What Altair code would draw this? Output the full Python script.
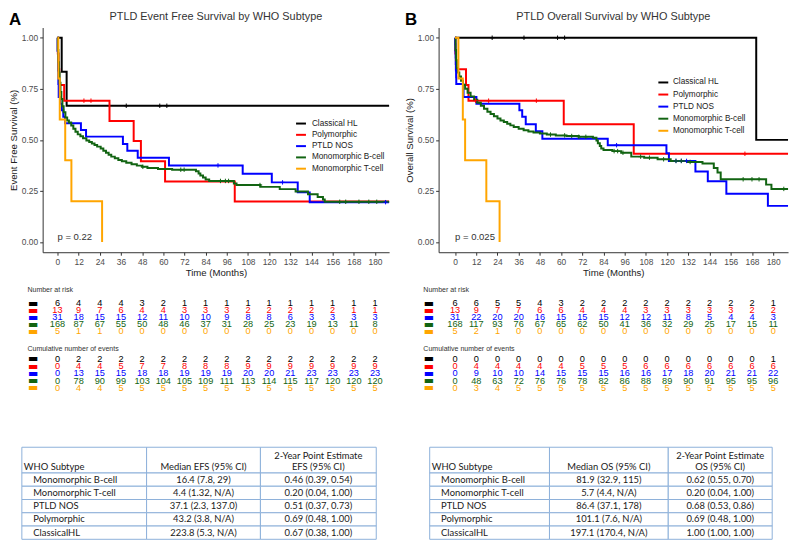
import altair as alt
import pandas as pd

groups = ["Classical HL", "Polymorphic", "PTLD NOS", "Monomorphic B-cell", "Monomorphic T-cell"]
palette = ["#000000", "#ff0000", "#0000ff", "#126412", "#ffa500"]
risk_times = [0, 12, 24, 36, 48, 60, 72, 84, 96, 108, 120, 132, 144, 156, 168, 180]

# ---------------- Panel A: event free survival (month, survival) ----------------
efs_hl = [(0, 1.0), (2.4, 0.833), (5.2, 0.667), (188, 0.667)]
efs_poly = [(0, 1.0), (0.2, 0.923), (0.6, 0.846), (1.0, 0.769), (3.8, 0.692), (29.5, 0.593),
            (43.2, 0.494), (47.3, 0.395), (61.0, 0.296), (100.5, 0.198), (188, 0.198)]
efs_nos = [(0, 1.0), (0.1, 0.935), (0.3, 0.839), (0.5, 0.774), (0.7, 0.71), (1.6, 0.677),
           (2.5, 0.645), (3.3, 0.613), (4.3, 0.581), (13.3, 0.548), (16.2, 0.516), (37.1, 0.48),
           (39.6, 0.447), (45.5, 0.413), (63.2, 0.375), (105.0, 0.334), (121.5, 0.292),
           (136.2, 0.243), (143.0, 0.195), (188, 0.195)]
efs_mb = [(0, 1.0), (0.2, 0.94), (0.5, 0.88), (0.8, 0.83), (1.2, 0.78), (1.7, 0.735), (2.2, 0.70),
          (2.8, 0.665), (3.5, 0.635), (4.5, 0.61), (5.5, 0.595), (6.5, 0.585), (7.8, 0.57),
          (9.0, 0.555), (10.2, 0.54), (11.5, 0.527), (13.0, 0.518), (14.5, 0.508), (16.4, 0.497),
          (18.0, 0.49), (19.5, 0.482), (21.0, 0.475), (22.5, 0.467), (24.5, 0.458), (26.0, 0.447),
          (27.5, 0.437), (29.0, 0.427), (30.5, 0.418), (32.5, 0.41), (34.5, 0.402), (36.5, 0.395),
          (39.0, 0.388), (42.0, 0.381), (45.0, 0.374), (48.0, 0.368), (51.0, 0.362), (57.0, 0.358),
          (65.0, 0.354), (78.5, 0.346), (80.0, 0.336), (81.0, 0.326), (82.5, 0.316), (84.0, 0.306),
          (86.0, 0.299), (100.0, 0.287), (101.5, 0.279), (115.0, 0.27), (126.0, 0.259),
          (135.0, 0.247), (142.0, 0.234), (147.5, 0.22), (150.5, 0.208), (151.5, 0.197), (188, 0.197)]
efs_mt = [(0, 1.0), (0.5, 0.8), (1.3, 0.6), (4.4, 0.4), (7.9, 0.2), (25.3, 0.0)]

efs_hl_cens = [39, 58, 62]
efs_poly_cens = [15, 19]
efs_nos_cens = [91, 127.6, 186]
efs_mb_cens = [48.4, 69.9, 71.8, 92.4, 95.2, 97, 114.8, 160, 163.4, 170.9, 176.5, 181]
efs_mt_cens = []

efs_risk_hl = [6, 4, 4, 4, 3, 2, 1, 1, 1, 1, 1, 1, 1, 1, 1, 1]
efs_risk_poly = [13, 9, 7, 6, 4, 4, 3, 3, 3, 2, 2, 2, 2, 2, 1, 1]
efs_risk_nos = [31, 18, 15, 15, 12, 11, 10, 10, 9, 8, 8, 6, 3, 3, 3, 3]
efs_risk_mb = [168, 87, 67, 55, 50, 48, 46, 37, 31, 28, 25, 23, 19, 13, 11, 8]
efs_risk_mt = [5, 1, 1, 0, 0, 0, 0, 0, 0, 0, 0, 0, 0, 0, 0, 0]

efs_ev_hl = [0, 2, 2, 2, 2, 2, 2, 2, 2, 2, 2, 2, 2, 2, 2, 2]
efs_ev_poly = [0, 4, 4, 5, 7, 7, 8, 8, 8, 9, 9, 9, 9, 9, 9, 9]
efs_ev_nos = [0, 13, 15, 15, 18, 18, 19, 19, 19, 20, 20, 21, 23, 23, 23, 23]
efs_ev_mb = [0, 78, 90, 99, 103, 104, 105, 109, 111, 113, 114, 115, 117, 120, 120, 120]
efs_ev_mt = [0, 4, 4, 5, 5, 5, 5, 5, 5, 5, 5, 5, 5, 5, 5, 5]

# ---------------- Panel B: overall survival ----------------
os_hl = [(0, 1.0), (170.4, 0.5), (188.4, 0.5)]
os_poly = [(0, 1.0), (0.2, 0.923), (0.5, 0.846), (6.2, 0.769), (7.6, 0.692), (61.5, 0.576),
           (101.1, 0.432), (188.4, 0.432)]
os_nos = [(0, 1.0), (0.1, 0.968), (0.2, 0.935), (0.3, 0.903), (0.4, 0.871), (0.5, 0.839),
          (0.6, 0.806), (0.7, 0.774), (4.6, 0.742), (4.8, 0.71), (12.1, 0.677), (36.4, 0.645),
          (38.0, 0.613), (40.0, 0.576), (45.7, 0.542), (49.4, 0.506), (86.4, 0.474),
          (119.6, 0.435), (121.0, 0.397), (136.0, 0.345), (143.0, 0.297), (153.5, 0.236),
          (177.0, 0.177), (188.4, 0.177)]
os_mb = [(0, 1.0), (0.3, 0.94), (0.6, 0.89), (1.0, 0.852), (1.6, 0.83), (2.4, 0.81), (3.4, 0.79),
         (4.5, 0.77), (5.7, 0.75), (7.1, 0.731), (8.8, 0.713), (10.8, 0.696), (12.6, 0.682),
         (14.6, 0.667), (16.4, 0.652), (18.3, 0.638), (20.1, 0.627), (22.0, 0.616), (24.0, 0.605),
         (25.7, 0.595), (27.6, 0.587), (29.5, 0.579), (31.3, 0.571), (33.2, 0.563), (36.0, 0.555),
         (38.8, 0.547), (41.5, 0.541), (44.4, 0.536), (48.0, 0.531), (51.9, 0.526), (57.0, 0.522),
         (63.1, 0.519), (70.0, 0.515), (78.0, 0.511), (80.0, 0.497), (80.8, 0.484), (81.9, 0.47),
         (82.7, 0.458), (84.0, 0.45), (89.0, 0.445), (94.0, 0.437), (99.7, 0.418), (107.0, 0.413),
         (114.6, 0.405), (122.0, 0.397), (131.5, 0.392), (140.0, 0.384), (146.4, 0.362),
         (148.5, 0.34), (150.3, 0.307), (176.0, 0.281), (179.0, 0.26), (188.4, 0.26)]
os_mt = [(0, 1.0), (1.9, 0.8), (4.4, 0.6), (5.7, 0.4), (17.7, 0.2), (25.2, 0.0)]

os_hl_cens = [21, 39, 58, 62]
os_poly_cens = [11.6, 19, 46, 164]
os_nos_cens = [91.4, 125, 128, 131]
os_mb_cens = [54, 62, 66, 70, 74, 90, 92, 95, 105, 110, 118, 125, 128, 133, 163, 168, 172, 186]
os_mt_cens = []

os_risk_hl = [6, 6, 5, 5, 4, 3, 2, 2, 2, 2, 2, 2, 2, 2, 2, 1]
os_risk_poly = [13, 9, 7, 7, 6, 6, 4, 4, 4, 3, 3, 3, 3, 3, 2, 2]
os_risk_nos = [31, 22, 20, 20, 16, 15, 15, 15, 12, 12, 11, 8, 5, 4, 4, 3]
os_risk_mb = [168, 117, 93, 76, 67, 65, 62, 50, 41, 36, 32, 29, 25, 17, 15, 11]
os_risk_mt = [5, 2, 1, 0, 0, 0, 0, 0, 0, 0, 0, 0, 0, 0, 0, 0]

os_ev_hl = [0, 0, 0, 0, 0, 0, 0, 0, 0, 0, 0, 0, 0, 0, 0, 1]
os_ev_poly = [0, 4, 4, 4, 4, 4, 5, 5, 5, 6, 6, 6, 6, 6, 6, 6]
os_ev_nos = [0, 9, 10, 10, 14, 15, 15, 15, 16, 16, 17, 18, 20, 21, 21, 22]
os_ev_mb = [0, 48, 63, 72, 76, 76, 78, 82, 86, 88, 89, 90, 91, 95, 95, 96]
os_ev_mt = [0, 3, 4, 5, 5, 5, 5, 5, 5, 5, 5, 5, 5, 5, 5, 5]

# ---------------- summary tables ----------------
tbl_subtypes = ["Monomorphic B-cell", "Monomorphic T-cell", "PTLD NOS", "Polymorphic", "ClassicalHL"]
efs_median = ["16.4 (7.8, 29)", "4.4 (1.32, N/A)", "37.1 (2.3, 137.0)", "43.2 (3.8, N/A)", "223.8 (5.3, N/A)"]
efs_2yr = ["0.46 (0.39, 0.54)", "0.20 (0.04, 1.00)", "0.51 (0.37, 0.73)", "0.69 (0.48, 1.00)", "0.67 (0.38, 1.00)"]
os_median = ["81.9 (32.9, 115)", "5.7 (4.4, N/A)", "86.4 (37.1, 178)", "101.1 (7.6, N/A)", "197.1 (170.4, N/A)"]
os_2yr = ["0.62 (0.55, 0.70)", "0.20 (0.04, 1.00)", "0.68 (0.53, 0.86)", "0.69 (0.48, 1.00)", "1.00 (1.00, 1.00)"]

FONT = "Liberation Sans"
PLUS = "M-1,0L1,0M0,-1L0,1"
color_expr = " : ".join(f"datum.value == '{g}' ? '{c}'" for g, c in zip(groups, palette)) + " : 'black'"


def step_value(pts, t):
    v = pts[0][1]
    for tt, ss in pts:
        if tt <= t:
            v = ss
    return v


def km_panel(curves, censors, title, ytitle, pval, panel, xdom, width, lx, ly, lrow, loff):
    line_df = pd.DataFrame([{"group": g, "t": t, "s": s}
                            for g, pts in zip(groups, curves) for t, s in pts])
    cen_df = pd.DataFrame([{"group": g, "t": c, "s": step_value(pts, c)}
                           for g, pts, cs in zip(groups, curves, censors) for c in cs])
    xs = alt.Scale(domain=xdom, nice=False, zero=False)
    ys = alt.Scale(domain=[-0.05, 1.05], nice=False, zero=False)
    cs = alt.Scale(domain=groups, range=palette)
    xax = alt.Axis(values=risk_times, title="Time (Months)", labelFontSize=8.5, labelColor="#4d4d4d",
                   tickSize=3, labelPadding=2, titlePadding=2, titleFontSize=9.7, titleColor="#222",
                   titleFontWeight="normal", domainColor="#333", tickColor="#333", grid=False,
                   labelFlush=False, labelOverlap=False)
    yax = alt.Axis(values=[0, 0.25, 0.5, 0.75, 1.0], format=".2f", title=ytitle, labelFontSize=8.5,
                   labelColor="#4d4d4d", tickSize=3, labelPadding=2, titlePadding=2.5, titleFontSize=9.7,
                   titleColor="#222", titleFontWeight="normal", domainColor="#333", tickColor="#333",
                   grid=False, labelOverlap=False)
    leg = alt.Legend(title=None, orient="none", legendX=lx, legendY=ly, symbolType="stroke",
                     symbolStrokeWidth=2, symbolSize=100, labelFontSize=8.3, labelColor="#222",
                     labelFont=FONT, rowPadding=lrow, labelOffset=loff, padding=0)
    X = alt.X("t:Q", scale=xs, axis=xax)
    Y = alt.Y("s:Q", scale=ys, axis=yax)
    lines = alt.Chart(line_df).mark_line(interpolate="step-after", strokeWidth=2).encode(
        x=X, y=Y, color=alt.Color("group:N", scale=cs, legend=leg, sort=groups),
    )
    cens = alt.Chart(cen_df).mark_point(shape=PLUS, size=20, strokeWidth=1, filled=False, opacity=1).encode(
        x=X, y=Y, color=alt.Color("group:N", scale=cs, legend=None)
    )
    ptxt = alt.Chart(pd.DataFrame({"t": [0], "s": [0.024], "label": [pval]})).mark_text(
        align="left", baseline="middle", fontSize=9.6, font=FONT, color="#333"
    ).encode(x=X, y=Y, text="label:N")
    ptag = alt.Chart(pd.DataFrame({"label": [panel]})).mark_text(
        align="left", baseline="top", fontSize=17, fontWeight="bold", font=FONT, color="black"
    ).encode(x=alt.value(-34), y=alt.value(-16), text="label:N")
    return alt.layer(lines, cens, ptxt, ptag).properties(
        width=width, height=227,
        title=alt.Title(title, fontSize=11, font=FONT, fontWeight="normal", color="#333", offset=-11.5),
    )


def count_panel(counts, title, xdom, width, height, yrange, toff):
    df = pd.DataFrame([{"group": g, "t": t, "n": n}
                       for g, row in zip(groups, counts) for t, n in zip(risk_times, row)])
    return alt.Chart(df).mark_text(fontSize=9.3, font=FONT, baseline="middle").encode(
        x=alt.X("t:Q", scale=alt.Scale(domain=xdom, nice=False, zero=False), axis=None),
        y=alt.Y("group:N", sort=groups,
                scale=alt.Scale(type="point", domain=groups, range=yrange, padding=0.5),
                axis=alt.Axis(title=None, domain=False, ticks=False, grid=False, labelExpr="'\u25ac'",
                              labelColor=alt.ExprRef(color_expr), labelFont="DejaVu Sans",
                              labelFontSize=11, labelPadding=5)),
        text=alt.Text("n:Q"),
        color=alt.Color("group:N", scale=alt.Scale(domain=groups, range=palette), legend=None),
    ).properties(width=width, height=height,
                 title=alt.Title(title, anchor="start", fontSize=7.1, font=FONT, fontWeight="normal",
                                 color="#333", offset=toff))


row_edges = [0, 26, 39.4, 52.8, 66.2, 79.6, 93]


def who_table(med, pt, hdr_med, hdr_pt, col_w, xrange, width):
    edges = [0, col_w[0], col_w[0] + col_w[1], sum(col_w)]
    cells = pd.DataFrame([{"x0": edges[c], "x1": edges[c + 1], "y0": row_edges[r], "y1": row_edges[r + 1]}
                          for r in range(6) for c in range(3)])
    xs = alt.Scale(domain=[0, sum(col_w)], range=xrange)
    ys = alt.Scale(domain=[0, row_edges[-1]], range=[0, row_edges[-1]])
    rect = alt.Chart(cells).mark_rect(fill="white", stroke="#8db0da", strokeWidth=1).encode(
        x=alt.X("x0:Q", scale=xs, axis=None), x2="x1",
        y=alt.Y("y0:Q", scale=ys, axis=None), y2="y1")
    mids = [(row_edges[r] + row_edges[r + 1]) / 2 for r in range(1, 6)]
    c2 = (edges[1] + edges[2]) / 2
    c3 = (edges[2] + edges[3]) / 2
    left_rows = [{"x": 2, "y": 20.3, "label": "WHO Subtype"}] + \
        [{"x": 11.5, "y": m, "label": s} for m, s in zip(mids, tbl_subtypes)]
    mid_rows = [{"x": c2, "y": 20.3, "label": hdr_med},
                {"x": c3, "y": 8.7, "label": "2-Year Point Estimate"},
                {"x": c3, "y": 20.3, "label": hdr_pt}] + \
        [{"x": c2, "y": m, "label": v} for m, v in zip(mids, med)] + \
        [{"x": c3, "y": m, "label": v} for m, v in zip(mids, pt)]
    tl = alt.Chart(pd.DataFrame(left_rows)).mark_text(
        align="left", baseline="middle", font="Lato", fontSize=9.5, color="#1a1a1a"
    ).encode(x=alt.X("x:Q", scale=xs), y=alt.Y("y:Q", scale=ys), text="label:N")
    tm = alt.Chart(pd.DataFrame(mid_rows)).mark_text(
        align="center", baseline="middle", font="Lato", fontSize=9.5, color="#1a1a1a"
    ).encode(x=alt.X("x:Q", scale=xs), y=alt.Y("y:Q", scale=ys), text="label:N")
    return alt.layer(rect, tl, tm).properties(width=width, height=row_edges[-1])


xdomA = [-8.4, 188]
xdomB = [-9.3, 188.4]

kmA = km_panel([efs_hl, efs_poly, efs_nos, efs_mb, efs_mt],
               [efs_hl_cens, efs_poly_cens, efs_nos_cens, efs_mb_cens, efs_mt_cens],
               "PTLD Event Free Survival by WHO Subtype", "Event Free Survival (%)", "p = 0.22", "A",
               xdomA, 350, 255, 91, 1.4, 5)
kmB = km_panel([os_hl, os_poly, os_nos, os_mb, os_mt],
               [os_hl_cens, os_poly_cens, os_nos_cens, os_mb_cens, os_mt_cens],
               "PTLD Overall Survival by WHO Subtype", "Overall Survival (%)", "p = 0.025", "B",
               xdomB, 353, 221, 49.5, 2.2, 3.7)

riskA = count_panel([efs_risk_hl, efs_risk_poly, efs_risk_nos, efs_risk_mb, efs_risk_mt],
                    "Number at risk", xdomA, 350, 63.5, [28.3, 63.3], -21)
riskB = count_panel([os_risk_hl, os_risk_poly, os_risk_nos, os_risk_mb, os_risk_mt],
                    "Number at risk", xdomB, 353, 63.5, [28.3, 63.3], -21)
evA = count_panel([efs_ev_hl, efs_ev_poly, efs_ev_nos, efs_ev_mb, efs_ev_mt],
                  "Cumulative number of events", xdomA, 350, 73, [0, 36.7], 1)
evB = count_panel([os_ev_hl, os_ev_poly, os_ev_nos, os_ev_mb, os_ev_mt],
                  "Cumulative number of events", xdomB, 353, 73, [0, 36.7], 1)

tabA = who_table(efs_median, efs_2yr, "Median EFS (95% CI)", "EFS (95% CI)", [126, 115, 117], [-21, 337], 350)
tabB = who_table(os_median, os_2yr, "Median OS (95% CI)", "OS (95% CI)", [121, 120, 105], [-9, 337], 353)

chart = alt.concat(
    kmA, kmB, riskA, riskB, evA, evB, tabA, tabB,
    columns=2, spacing={"row": 20, "column": 50}, bounds="flush", align="each",
).resolve_scale(color="independent").resolve_legend(color="independent").properties(
    padding=0
).configure_view(stroke=None).configure_axis(
    labelFont=FONT, titleFont=FONT, labelOverlap=False
).configure_axisX(labelOverlap=False, labelFlush=False)

chart.save("out.html", embed_options={"renderer": "svg", "actions": False})
